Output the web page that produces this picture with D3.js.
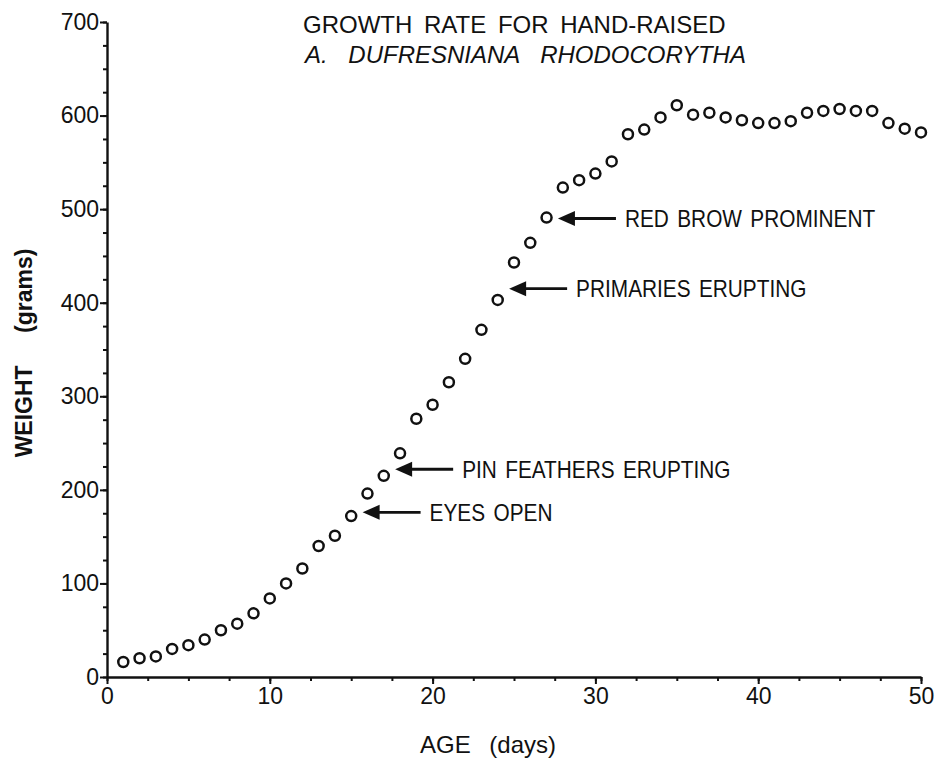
<!DOCTYPE html>
<html lang="en">
	<head>
		<meta charset="utf-8">
		<title>Growth rate for hand-raised A. dufresniana rhodocorytha</title>
		<script type="text/javascript" src="https://cdn.jsdelivr.net/npm/d3@7"></script>
		<style type="text/css">
			body { margin: 0; background: #fff; }
			text { font-family: "Liberation Sans", Arial, sans-serif; fill: #111; }
			.axis path, .axis line { stroke: #111; }
		</style>
	</head>
	<body>
		<script type="text/javascript">

			//Width and height
			var w = 946;
			var h = 760;

			//Age in days, weight in grams
			var days = [1,2,3,4,5,6,7,8,9,10,11,12,13,14,15,16,17,18,19,20,21,22,23,24,25,
						26,27,28,29,30,31,32,33,34,35,36,37,38,39,40,41,42,43,44,45,46,47,48,49,50];
			var weights = [16,20,22,30,34,40,50,57,68,84,100,116,140,151,172,196,215,239,276,291,
						315,340,371,403,443,464,491,523,531,538,551,580,585,598,611,601,603,598,595,592,
						592,594,603,605,607,605,605,592,586,582];

			var xTicks = [0,10,20,30,40,50];
			var yTicks = [0,100,200,300,400,500,600,700];

			//Milestones: label, age, weight at the arrow tip
			var notes = ["EYES OPEN","PIN FEATHERS ERUPTING","PRIMARIES ERUPTING","RED BROW PROMINENT"];
			var noteDays = [15.7, 17.7, 24.7, 27.7];
			var noteWeights = [176, 222, 415, 490];

			var dataset = days.map(function(d,i){ return [d, weights[i]]; });

			var xScale = d3.scaleLinear()
			.domain([0,50])
			.range([107,921]);

			var yScale = d3.scaleLinear()
			.domain([0,700])
			.range([677,22]);

			//Create SVG element
			var svg = d3.select("body")
						.append("svg")
						.attr("width",w)
						.attr("height",h);

			//minor ticks first
			svg.append("g")
			.attr("class","axis")
			.attr("transform","translate(0,677)")
			.call(d3.axisBottom(xScale).tickValues(d3.range(0,50.1,2.5)).tickSize(4).tickFormat(""))
			.select(".domain").remove();

			svg.append("g")
			.attr("class","axis")
			.attr("transform","translate(107,0)")
			.call(d3.axisLeft(yScale).tickValues(d3.range(0,701,25)).tickSize(4).tickFormat(""))
			.select(".domain").remove();

			var xAxis = svg.append("g")
			.attr("class","axis")
			.attr("transform","translate(0,677)")
			.call(d3.axisBottom(xScale).tickValues(xTicks).tickSize(7).tickPadding(4).tickSizeOuter(0));
			xAxis.selectAll("text").attr("font-size",23).attr("font-family","Liberation Sans");

			var yAxis = svg.append("g")
			.attr("class","axis")
			.attr("transform","translate(107,0)")
			.call(d3.axisLeft(yScale).tickValues(yTicks).tickSize(7).tickPadding(1).tickSizeOuter(0));
			yAxis.selectAll("text").attr("font-size",23).attr("font-family","Liberation Sans");

			svg.selectAll(".axis path").attr("stroke-width",2.4);
			svg.selectAll(".axis line").attr("stroke-width",2);

			//points
			svg.selectAll("circle")
			.data(dataset)
			.enter()
			.append("circle")
			.attr("cx",function(d){return xScale(d[0]);})
			.attr("cy",function(d){return yScale(d[1]);})
			.attr("r",5)
			.attr("fill","none")
			.attr("stroke","#111")
			.attr("stroke-width",2.5);

			//arrows with labels
			var g = svg.selectAll("g.note")
			.data(notes)
			.enter()
			.append("g")
			.attr("class","note")
			.attr("transform",function(d,i){return "translate("+xScale(noteDays[i])+","+yScale(noteWeights[i])+")";});

			g.append("path")
			.attr("d","M0,0L17,-7.5L17,7.5Z")
			.attr("fill","#111");

			g.append("line")
			.attr("x1",15).attr("x2",58)
			.attr("y1",0).attr("y2",0)
			.attr("stroke","#111")
			.attr("stroke-width",2.8);

			//the lettering is narrow, so squeeze it
			g.append("text")
			.text(function(d){return d;})
			.attr("transform","translate(67,8.5) scale(0.85,1)")
			.attr("font-size",24.5)
			.attr("word-spacing",3);

			//title
			svg.append("text")
			.text("GROWTH RATE FOR HAND-RAISED")
			.attr("x",303)
			.attr("y",33)
			.attr("font-size",24)
			.attr("word-spacing",5);

			svg.append("text")
			.text("A. DUFRESNIANA RHODOCORYTHA")
			.attr("x",305)
			.attr("y",63)
			.attr("font-size",24)
			.attr("font-style","italic")
			.attr("word-spacing",14);

			//axis titles
			svg.append("text")
			.text("AGE (days)")
			.attr("x",420)
			.attr("y",753)
			.attr("font-size",24)
			.attr("word-spacing",12);

			svg.append("text")
			.text("WEIGHT (grams)")
			.attr("transform","translate(32,353) rotate(-90)")
			.attr("text-anchor","middle")
			.attr("font-size",23)
			.attr("font-weight","bold")
			.attr("word-spacing",26);

		</script>
	</body>
</html>
